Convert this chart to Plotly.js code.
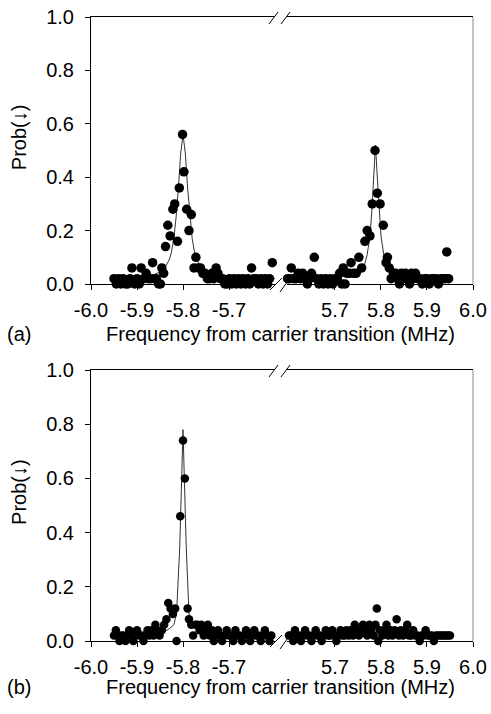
<!DOCTYPE html>
<html>
<head>
<meta charset="utf-8">
<script src="https://cdn.plot.ly/plotly-3.0.1.min.js"></script>
<style>html,body{margin:0;padding:0;background:#fff;}#chart{width:491px;height:714px;}</style>
</head>
<body>
<div id="chart"></div>
<script>
// ---------- Data ----------
const leftTickVals = [-6.0, -5.9, -5.8, -5.7];
const leftTickText = ["-6.0", "-5.9", "-5.8", "-5.7"];
const rightTickVals = [5.7, 5.8, 5.9, 6.0];
const rightTickText = ["5.7", "5.8", "5.9", "6.0"];
const yTickVals = [0, 0.2, 0.4, 0.6, 0.8, 1.0];
const yTickText = ["0.0", "0.2", "0.4", "0.6", "0.8", "1.0"];

// Panel (a), negative side
const aLeftX = [-5.950,-5.945,-5.940,-5.935,-5.930,-5.925,-5.920,-5.915,-5.911,-5.905,-5.900,-5.895,-5.891,-5.885,-5.880,-5.875,-5.870,-5.866,-5.862,-5.858,-5.853,-5.849,-5.846,-5.842,-5.838,-5.833,-5.828,-5.822,-5.818,-5.812,-5.808,-5.801,-5.798,-5.792,-5.787,-5.782,-5.776,-5.772,-5.767,-5.762,-5.757,-5.752,-5.747,-5.742,-5.737,-5.733,-5.728,-5.724,-5.719,-5.714,-5.709,-5.704,-5.699,-5.694,-5.689,-5.684,-5.679,-5.674,-5.669,-5.664,-5.659,-5.655,-5.651,-5.646,-5.641,-5.636,-5.631,-5.626,-5.621,-5.616,-5.612,-5.606];
const aLeftY = [0.02,0.00,0.02,0.00,0.02,0.00,0.00,0.02,0.06,0.00,0.02,0.00,0.06,0.02,0.04,0.02,0.02,0.08,0.02,0.02,0.00,0.00,0.06,0.04,0.14,0.22,0.18,0.28,0.30,0.16,0.36,0.56,0.42,0.28,0.20,0.26,0.06,0.10,0.06,0.06,0.04,0.04,0.02,0.02,0.04,0.02,0.06,0.04,0.02,0.02,0.00,0.00,0.02,0.00,0.02,0.00,0.02,0.00,0.02,0.00,0.02,0.00,0.06,0.02,0.02,0.00,0.02,0.00,0.02,0.00,0.02,0.08];
const aLeftFitX = [-5.95,-5.90,-5.87,-5.85,-5.84,-5.83,-5.825,-5.82,-5.815,-5.81,-5.805,-5.800,-5.795,-5.79,-5.785,-5.78,-5.775,-5.77,-5.76,-5.75,-5.73,-5.70,-5.65,-5.60];
const aLeftFitY = [0.02,0.025,0.03,0.045,0.06,0.09,0.12,0.17,0.25,0.36,0.49,0.56,0.49,0.36,0.25,0.17,0.12,0.09,0.06,0.045,0.03,0.025,0.02,0.02];

// Panel (a), positive side
const aRightX = [5.597,5.601,5.605,5.610,5.615,5.620,5.625,5.630,5.635,5.640,5.645,5.649,5.655,5.660,5.665,5.670,5.675,5.680,5.685,5.690,5.695,5.700,5.705,5.710,5.715,5.718,5.722,5.726,5.731,5.735,5.740,5.746,5.752,5.758,5.765,5.770,5.776,5.781,5.787,5.792,5.798,5.805,5.811,5.814,5.818,5.822,5.827,5.832,5.836,5.840,5.844,5.848,5.853,5.857,5.862,5.866,5.870,5.875,5.880,5.885,5.890,5.895,5.900,5.905,5.910,5.915,5.920,5.925,5.930,5.935,5.940,5.943,5.947];
const aRightY = [0.02,0.02,0.06,0.02,0.02,0.04,0.02,0.04,0.02,0.00,0.02,0.04,0.10,0.02,0.00,0.02,0.00,0.02,0.00,0.02,0.00,0.02,0.02,0.04,0.00,0.06,0.00,0.04,0.04,0.08,0.04,0.04,0.10,0.06,0.16,0.20,0.18,0.30,0.50,0.34,0.30,0.22,0.08,0.10,0.06,0.02,0.04,0.04,0.02,0.00,0.04,0.02,0.04,0.02,0.00,0.04,0.02,0.04,0.02,0.02,0.00,0.02,0.02,0.00,0.02,0.02,0.02,0.00,0.02,0.02,0.02,0.12,0.02];
const aRightFitX = [5.60,5.65,5.70,5.73,5.745,5.758,5.764,5.770,5.776,5.780,5.784,5.788,5.792,5.796,5.800,5.806,5.812,5.818,5.83,5.85,5.90,5.95];
const aRightFitY = [0.02,0.02,0.025,0.03,0.035,0.045,0.07,0.11,0.18,0.27,0.40,0.52,0.40,0.27,0.18,0.11,0.07,0.045,0.035,0.03,0.02,0.02];

// Panel (b), negative side
const bLeftX = [-5.950,-5.946,-5.942,-5.938,-5.934,-5.930,-5.925,-5.921,-5.917,-5.912,-5.908,-5.904,-5.900,-5.895,-5.890,-5.886,-5.882,-5.877,-5.873,-5.868,-5.864,-5.860,-5.856,-5.851,-5.846,-5.841,-5.836,-5.832,-5.827,-5.822,-5.817,-5.814,-5.806,-5.800,-5.796,-5.790,-5.787,-5.782,-5.778,-5.773,-5.769,-5.764,-5.760,-5.755,-5.751,-5.746,-5.742,-5.737,-5.733,-5.728,-5.724,-5.719,-5.715,-5.710,-5.705,-5.700,-5.696,-5.691,-5.686,-5.682,-5.677,-5.672,-5.668,-5.663,-5.658,-5.654,-5.649,-5.645,-5.640,-5.636,-5.631,-5.627,-5.622,-5.617,-5.612,-5.608];
const bLeftY = [0.02,0.04,0.02,0.00,0.02,0.02,0.00,0.02,0.04,0.02,0.00,0.02,0.04,0.02,0.02,0.00,0.02,0.04,0.02,0.04,0.02,0.06,0.04,0.02,0.04,0.06,0.08,0.14,0.12,0.10,0.12,0.00,0.46,0.74,0.60,0.12,0.08,0.06,0.02,0.06,0.06,0.04,0.06,0.02,0.04,0.06,0.02,0.04,0.00,0.02,0.04,0.02,0.00,0.02,0.04,0.02,0.02,0.00,0.04,0.02,0.02,0.00,0.02,0.04,0.02,0.00,0.02,0.04,0.02,0.02,0.00,0.02,0.04,0.02,0.00,0.02];
const bLeftFitX = [-5.95,-5.90,-5.86,-5.84,-5.83,-5.82,-5.814,-5.807,-5.800,-5.793,-5.787,-5.78,-5.77,-5.76,-5.74,-5.70,-5.65,-5.60];
const bLeftFitY = [0.02,0.025,0.03,0.035,0.045,0.06,0.10,0.35,0.78,0.35,0.10,0.06,0.045,0.035,0.03,0.025,0.02,0.02];

// Panel (b), positive side
const bRightX = [5.600,5.604,5.609,5.613,5.617,5.622,5.626,5.631,5.635,5.640,5.644,5.649,5.653,5.658,5.662,5.667,5.671,5.676,5.680,5.685,5.689,5.694,5.698,5.703,5.707,5.712,5.716,5.721,5.725,5.730,5.734,5.739,5.743,5.748,5.752,5.757,5.761,5.766,5.770,5.775,5.779,5.784,5.788,5.791,5.794,5.798,5.803,5.807,5.812,5.816,5.821,5.825,5.830,5.834,5.839,5.843,5.848,5.852,5.857,5.861,5.866,5.870,5.875,5.879,5.884,5.888,5.893,5.897,5.902,5.906,5.911,5.915,5.920,5.924,5.929,5.933,5.938,5.942,5.946,5.950];
const bRightY = [0.02,0.02,0.00,0.04,0.02,0.02,0.00,0.02,0.04,0.02,0.02,0.00,0.02,0.04,0.02,0.02,0.00,0.02,0.04,0.02,0.02,0.04,0.02,0.00,0.02,0.04,0.02,0.02,0.04,0.02,0.04,0.02,0.06,0.04,0.02,0.04,0.06,0.04,0.02,0.06,0.04,0.02,0.06,0.12,0.00,0.04,0.02,0.04,0.06,0.02,0.04,0.02,0.04,0.08,0.02,0.04,0.02,0.04,0.06,0.02,0.02,0.04,0.02,0.02,0.00,0.02,0.02,0.04,0.02,0.02,0.02,0.00,0.02,0.02,0.02,0.02,0.02,0.02,0.02,0.02];
const bRightFitX = [5.60,5.70,5.75,5.77,5.78,5.79,5.80,5.81,5.83,5.87,5.95];
const bRightFitY = [0.02,0.025,0.03,0.035,0.04,0.045,0.04,0.035,0.03,0.025,0.02];

// ---------- Layout helpers (pixels -> paper) ----------
const W = 491, H = 714;
const px = v => v / W;
const py = v => 1 - v / H;
const FONT = 'Liberation Sans, Arial, Helvetica, sans-serif';
const FS = 20;

const panels = [
  {top: 17, bottom: 284, label: '(a)', titleY: 334},
  {top: 370, bottom: 641, label: '(b)', titleY: 687}
];

const markerA = {color: '#000', size: 9.5};
const markerB = {color: '#000', size: 8.5};
const fitLine = {color: '#333', width: 1};

function pts(x, y, xa, ya, m) {
  return {x: x, y: y, xaxis: xa, yaxis: ya, type: 'scatter', mode: 'markers', marker: m, cliponaxis: false, hoverinfo: 'skip'};
}
function fit(x, y, xa, ya) {
  return {x: x, y: y, xaxis: xa, yaxis: ya, type: 'scatter', mode: 'lines', line: fitLine, cliponaxis: false, hoverinfo: 'skip'};
}

const data = [
  fit(aLeftFitX, aLeftFitY, 'x', 'y'),
  fit(aRightFitX, aRightFitY, 'x2', 'y'),
  pts(aLeftX, aLeftY, 'x', 'y', markerA),
  pts(aRightX, aRightY, 'x2', 'y', markerA),
  fit(bLeftFitX, bLeftFitY, 'x3', 'y2'),
  fit(bRightFitX, bRightFitY, 'x4', 'y2'),
  pts(bLeftX, bLeftY, 'x3', 'y2', markerB),
  pts(bRightX, bRightY, 'x4', 'y2', markerB)
];

const LEFT_DOM = [px(91), px(275)];
const RIGHT_DOM = [px(287), px(473)];

function xAxis(dom, range, tv, tt, anchor) {
  return {domain: dom, range: range, anchor: anchor, tickvals: tv, ticktext: tt,
    showline: true, mirror: true, linecolor: '#000', linewidth: 1,
    ticks: 'outside', ticklen: 5, tickcolor: '#000', tickwidth: 1, ticklabelstandoff: 3,
    showgrid: false, zeroline: false, fixedrange: true,
    tickfont: {family: FONT, size: FS, color: '#000'}};
}
function yAxis(p, anchor) {
  return {domain: [py(p.bottom), py(p.top)], range: [0, 1], anchor: anchor,
    tickvals: yTickVals, ticktext: yTickText,
    showline: true, linecolor: '#000', linewidth: 1,
    ticks: 'outside', ticklen: 5, tickcolor: '#000', tickwidth: 1, ticklabelstandoff: 7,
    showgrid: false, zeroline: false, fixedrange: true,
    tickfont: {family: FONT, size: FS, color: '#000'}};
}

const shapes = [];
const annotations = [];
panels.forEach(p => {
  shapes.push({type: 'line', xref: 'paper', yref: 'paper', x0: px(473), x1: px(473), y0: py(p.bottom), y1: py(p.top), line: {color: '#888', width: 1}});
  shapes.push({type: 'line', xref: 'paper', yref: 'paper', x0: px(269), y0: py(p.top + 7), x1: px(278), y1: py(p.top - 5), line: {color: '#000', width: 1}});
  shapes.push({type: 'line', xref: 'paper', yref: 'paper', x0: px(281), y0: py(p.top + 7), x1: px(290), y1: py(p.top - 5), line: {color: '#000', width: 1}});
  shapes.push({type: 'line', xref: 'paper', yref: 'paper', x0: px(270), y0: py(p.bottom + 6), x1: px(282), y1: py(p.bottom - 6), line: {color: '#000', width: 1}});
  shapes.push({type: 'line', xref: 'paper', yref: 'paper', x0: px(280), y0: py(p.bottom + 8), x1: px(290), y1: py(p.bottom - 6), line: {color: '#000', width: 1}});
  annotations.push({text: p.label, xref: 'paper', yref: 'paper', x: px(5), y: py(p.titleY), xanchor: 'left', yanchor: 'middle', showarrow: false, font: {family: FONT, size: FS, color: '#000'}});
  annotations.push({text: 'Frequency from carrier transition (MHz)', xref: 'paper', yref: 'paper', x: px(280), y: py(p.titleY), xanchor: 'center', yanchor: 'middle', showarrow: false, font: {family: FONT, size: FS, color: '#000'}});
  annotations.push({text: 'Prob(\u2193)', xref: 'paper', yref: 'paper', x: px(19), y: py(p.bottom - 0.55 * (p.bottom - p.top)), xanchor: 'center', yanchor: 'middle', textangle: -90, showarrow: false, font: {family: FONT, size: FS, color: '#000'}});
});

const layout = {
  width: W, height: H, margin: {l: 0, r: 0, t: 0, b: 0},
  paper_bgcolor: '#fff', plot_bgcolor: '#fff', showlegend: false,
  font: {family: FONT, size: FS, color: '#000'},
  xaxis: xAxis(LEFT_DOM, [-6.0, -5.6], leftTickVals, leftTickText, 'y'),
  xaxis2: xAxis(RIGHT_DOM, [5.5957, 6.0], rightTickVals, rightTickText, 'y'),
  xaxis3: xAxis(LEFT_DOM, [-6.0, -5.6], leftTickVals, leftTickText, 'y2'),
  xaxis4: xAxis(RIGHT_DOM, [5.5957, 6.0], rightTickVals, rightTickText, 'y2'),
  yaxis: yAxis(panels[0], 'x'),
  yaxis2: yAxis(panels[1], 'x3'),
  shapes: shapes,
  annotations: annotations
};

Plotly.newPlot('chart', data, layout, {displayModeBar: false, staticPlot: true});
</script>
</body>
</html>
